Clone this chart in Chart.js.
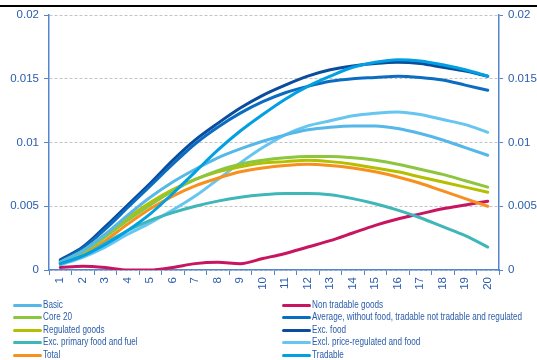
<!DOCTYPE html>
<html><head><meta charset="utf-8">
<script src="https://cdn.jsdelivr.net/npm/chart.js@4.4.0/dist/chart.umd.min.js"></script>
<style>
html,body{margin:0;padding:0;background:#fff;}
#wrap{position:relative;width:537px;height:360px;overflow:hidden;background:#fff;}
#topline{position:absolute;left:0;top:5px;width:537px;height:2px;background:#000;}
#c{position:absolute;left:0;top:0;}
#legend{position:absolute;left:0;top:0;width:537px;height:360px;pointer-events:none;font-family:"Liberation Sans",Arial,sans-serif;font-size:10px;color:#2a5caa;}
.item{position:absolute;height:12px;line-height:12px;white-space:nowrap;}
.swatch{position:absolute;left:0;top:5px;width:29px;height:3px;border-radius:1.5px;}
.lbl{position:absolute;left:30px;top:0;display:inline-block;transform-origin:0 50%;}
</style></head>
<body>
<div id="wrap">
<canvas id="c" width="537" height="360"></canvas>
<div id="topline"></div>
<div id="legend"></div>
</div>
<script>
const categories = ['1','2','3','4','5','6','7','8','9','10','11','12','13','14','15','16','17','18','19','20'];
const yTicks = [0, 0.005, 0.01, 0.015, 0.02];

const basic      = [0.0006,0.0015,0.0028,0.0043,0.0057,0.0069,0.0079,0.0088,0.0095,0.0101,0.0106,0.0110,0.0112,0.0113,0.0113,0.0111,0.0107,0.0102,0.0096,0.0090];
const core20     = [0.0006,0.0014,0.0026,0.0039,0.0051,0.0062,0.0071,0.0078,0.0083,0.0086,0.0088,0.0089,0.0089,0.0088,0.0086,0.0083,0.0079,0.0075,0.0070,0.0065];
const regulated  = [0.0006,0.0015,0.0028,0.0041,0.0053,0.0063,0.0071,0.0077,0.0081,0.0084,0.0085,0.0086,0.0085,0.0083,0.0080,0.0077,0.0073,0.0069,0.0065,0.0061];
const excPrimary = [0.0005,0.0011,0.0021,0.0031,0.0039,0.0045,0.0050,0.0054,0.0057,0.0059,0.0060,0.0060,0.0059,0.0056,0.0052,0.0047,0.0041,0.0034,0.0027,0.0018];
const total      = [0.0005,0.0012,0.0023,0.0036,0.0048,0.0058,0.0066,0.0072,0.0077,0.0080,0.0082,0.0083,0.0082,0.0080,0.0077,0.0073,0.0068,0.0062,0.0056,0.0050];
const nonTradable= [0.0002,0.0003,0.0002,0.0000,0.0000,0.0002,0.0005,0.0006,0.0005,0.0009,0.0013,0.0018,0.0023,0.0029,0.0035,0.0040,0.0044,0.0048,0.0051,0.0054];
const average    = [0.0007,0.0017,0.0032,0.0049,0.0066,0.0083,0.0099,0.0112,0.0123,0.0132,0.0139,0.0144,0.0148,0.0150,0.0151,0.0152,0.0151,0.0149,0.0145,0.0141];
const excFood    = [0.0008,0.0018,0.0034,0.0051,0.0068,0.0086,0.0102,0.0115,0.0127,0.0137,0.0145,0.0152,0.0157,0.0160,0.0162,0.0163,0.0162,0.0159,0.0156,0.0152];
const exclPrice  = [0.0004,0.0010,0.0018,0.0028,0.0037,0.0047,0.0058,0.0071,0.0084,0.0096,0.0106,0.0113,0.0117,0.0121,0.0123,0.0124,0.0122,0.0118,0.0114,0.0108];
const tradable   = [0.0005,0.0011,0.0020,0.0031,0.0044,0.0060,0.0077,0.0094,0.0109,0.0122,0.0134,0.0144,0.0152,0.0159,0.0163,0.0165,0.0164,0.0161,0.0157,0.0152];

const seriesNames = ['Basic','Core 20','Regulated goods','Exc. primary food and fuel','Total',
  'Non tradable goods','Average, without food, tradable not tradable and regulated','Exc. food','Excl. price-regulated and food','Tradable'];
const seriesData = [basic, core20, regulated, excPrimary, total, nonTradable, average, excFood, exclPrice, tradable];
const seriesColors = ['#56b8e8','#8cc63e','#b4bf00','#3fb6b8','#f7901e','#c8155f','#0b6dc2','#0b4c9c','#66c6f0','#00a0e2'];

const axisBlue = '#5585cc';
const textBlue = '#2a5caa';
const tickFont = {family: '"Liberation Sans", Arial, sans-serif', size: 11.5};

const datasets = seriesNames.map((n,i)=>({
  label:n, data:seriesData[i], borderColor:seriesColors[i], backgroundColor:seriesColors[i],
  borderWidth:3, pointRadius:0, fill:false, tension:0.4, cubicInterpolationMode:'monotone',
  yAxisID:'y', borderCapStyle:'round', borderJoinStyle:'round'
}));
datasets[9].order = -1;

const yFmt = v => String(+Number(v).toFixed(3));

new Chart(document.getElementById('c'), {
  type:'line',
  data:{labels:categories, datasets},
  options:{
    responsive:false, animation:false, devicePixelRatio:1,
    layout:{padding:{top:15, bottom:64, left:0, right:0}},
    plugins:{legend:{display:false}, tooltip:{enabled:false}},
    scales:{
      x:{
        type:'category', offset:true,
        grid:{display:true, drawOnChartArea:false, drawTicks:true, tickLength:5, tickColor:axisBlue, offset:true},
        border:{display:true, color:axisBlue, width:1.5},
        ticks:{color:textBlue, font:tickFont, minRotation:90, maxRotation:90, padding:2, autoSkip:false},
        afterFit:s=>{s.height=26;}
      },
      y:{
        position:'left', min:0, max:0.02,
        afterBuildTicks:s=>{s.ticks=yTicks.map(v=>({value:v}));},
        grid:{color:'#c4c4c4', lineWidth:1, drawTicks:true, tickLength:5, tickColor:axisBlue, tickBorderDash:[]},
        border:{display:true, color:axisBlue, width:1.5, dash:[3,2]},
        ticks:{color:textBlue, font:tickFont, padding:5, callback:yFmt},
        afterFit:s=>{s.width=49;}
      },
      y2:{
        position:'right', min:0, max:0.02,
        afterBuildTicks:s=>{s.ticks=yTicks.map(v=>({value:v}));},
        grid:{drawOnChartArea:false, drawTicks:true, tickLength:4, tickColor:axisBlue},
        border:{display:true, color:axisBlue, width:1.5},
        ticks:{color:textBlue, font:tickFont, padding:5, callback:yFmt},
        afterFit:s=>{s.width=38;}
      }
    }
  }
});

// two-column legend (column-major order like reference), horizontally condensed text
const leg = document.getElementById('legend');
const rowY = [298.5, 311, 323.5, 336, 348.5];
const colX = [13, 282];
const labels = [];
seriesNames.forEach((n,i)=>{
  const col = Math.floor(i/5), row = i%5;
  const d = document.createElement('div');
  d.className='item';
  d.style.left = colX[col]+'px';
  d.style.top = rowY[row]+'px';
  const sw = document.createElement('div'); sw.className='swatch'; sw.style.background=seriesColors[i];
  const lb = document.createElement('span'); lb.className='lbl'; lb.textContent=n;
  d.appendChild(sw); d.appendChild(lb); leg.appendChild(d);
  labels.push(lb);
});
const longest = labels[6].getBoundingClientRect().width;
const sx = Math.min(1, 210/longest);
labels.forEach(l=>{ l.style.transform = 'scaleX('+sx.toFixed(3)+')'; });
</script>
</body></html>
